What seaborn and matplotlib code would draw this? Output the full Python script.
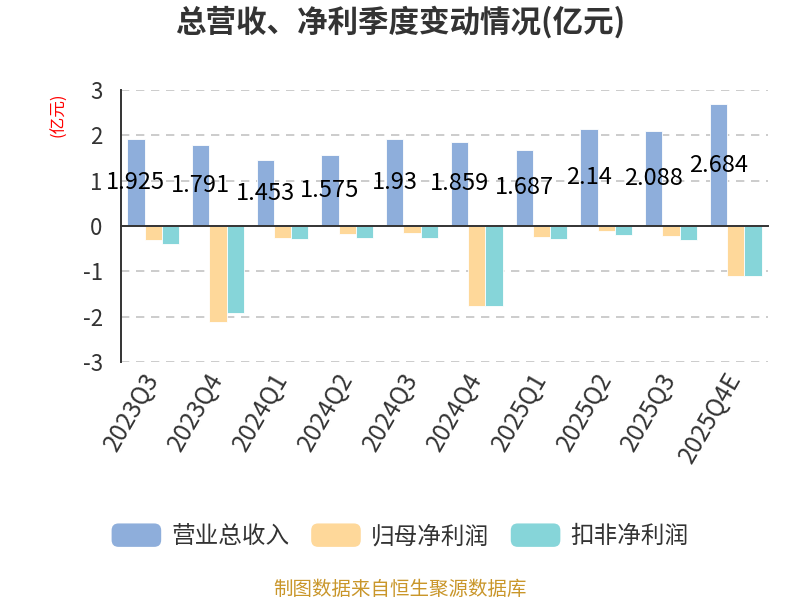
import numpy as np
import pandas as pd
import matplotlib
matplotlib.use("Agg")
import matplotlib.pyplot as plt
import seaborn as sns
from matplotlib.patches import Patch, FancyBboxPatch
from matplotlib.legend_handler import HandlerPatch

# 数据 (亿元)
quarters = ['2023Q3', '2023Q4', '2024Q1', '2024Q2', '2024Q3',
            '2024Q4', '2025Q1', '2025Q2', '2025Q3', '2025Q4E']
revenue = [1.925, 1.791, 1.453, 1.575, 1.93, 1.859, 1.687, 2.14, 2.088, 2.684]
net_profit = [-0.31, -2.11, -0.27, -0.18, -0.16, -1.76, -0.24, -0.10, -0.22, -1.10]
net_profit_deducted = [-0.39, -1.93, -0.29, -0.26, -0.26, -1.76, -0.29, -0.19, -0.31, -1.11]
series_names = ['营业总收入', '归母净利润', '扣非净利润']
colors = ['#8EAEDB', '#FED89A', '#86D5D9']

df = pd.DataFrame({
    'quarter': quarters * 3,
    'value': revenue + net_profit + net_profit_deducted,
    'series': np.repeat(series_names, len(quarters)),
})

sns.set_style('white')
plt.rcParams['font.family'] = ['Noto Sans CJK SC', 'DejaVu Sans']
plt.rcParams['axes.unicode_minus'] = False

fig = plt.figure(figsize=(8, 6), dpi=100)
ax = fig.add_axes([0.151, 0.3967, 0.809, 0.4533])

sns.barplot(data=df, x='quarter', y='value', hue='series', order=quarters,
            hue_order=series_names, palette=colors, saturation=1, width=0.8,
            edgecolor='white', linewidth=0.6, ax=ax, legend=False)

ax.set_xlim(-0.5, len(quarters) - 0.5)
ax.set_ylim(-3, 3)
ax.set_yticks(range(-3, 4))
ax.set_xlabel('')
ax.set_ylabel('')

# 网格
ax.yaxis.grid(True, linestyle=(0, (5, 4)), color='#c4c4c4', linewidth=1.2)
ax.set_axisbelow(True)

# 坐标轴
for s in ['top', 'right']:
    ax.spines[s].set_visible(False)
ax.spines['left'].set_color('#333333')
ax.spines['left'].set_linewidth(1.4)
ax.spines['bottom'].set_position(('data', 0))
ax.spines['bottom'].set_color('#333333')
ax.spines['bottom'].set_linewidth(1.4)
ax.tick_params(axis='x', which='major', length=0, labelbottom=False)
ax.set_xticks(np.arange(-0.5, len(quarters)), minor=True)
ax.tick_params(axis='x', which='minor', length=6, width=1.4, color='#333333')
ax.tick_params(axis='y', length=7, width=1.4, color='#333333', labelsize=16,
               labelcolor='#333333', pad=6)

sec = ax.secondary_xaxis('bottom')
sec.set_xticks(range(len(quarters)), labels=quarters)
sec.spines['bottom'].set_visible(False)
sec.tick_params(length=0, pad=9, labelsize=17.5, labelcolor='#333333')
for lab in sec.get_xticklabels():
    lab.set_rotation(60)
    lab.set_ha('right')
    lab.set_va('center')
    lab.set_rotation_mode('anchor')

# 数值标签
for bar, v in zip(ax.containers[0], revenue):
    ax.text(bar.get_x() + bar.get_width() / 2, bar.get_height() / 2, f'{v:g}',
            ha='center', va='center', fontsize=17, color='black', zorder=5)

# 标题
fig.text(0.5, 0.963, '总营收、净利季度变动情况(亿元)', ha='center', va='center',
         fontsize=22, fontweight='bold', color='#333333')
fig.text(0.073, 0.808, '(亿元)', rotation=90, ha='center', va='center',
         fontsize=12, color='red')


class RoundHandler(HandlerPatch):
    def create_artists(self, legend, orig_handle, xdescent, ydescent,
                       width, height, fontsize, trans):
        p = FancyBboxPatch((-xdescent, -ydescent), width, height,
                           boxstyle='round,pad=0,rounding_size=5',
                           facecolor=orig_handle.get_facecolor(),
                           edgecolor='none', transform=trans)
        return [p]


handles = [Patch(facecolor=c, label=n) for c, n in zip(colors, series_names)]
fig.legend(handles=handles, loc='center', bbox_to_anchor=(0.5, 0.107), ncol=3,
           frameon=False, fontsize=17, handlelength=2.1, handleheight=1.15,
           handletextpad=0.42, columnspacing=0.93, labelcolor='#333333',
           handler_map={Patch: RoundHandler()})

fig.text(0.5, 0.017, '制图数据来自恒生聚源数据库', ha='center', va='center',
         fontsize=14, color='#C9962A')

fig.savefig('out.png', dpi=100)
